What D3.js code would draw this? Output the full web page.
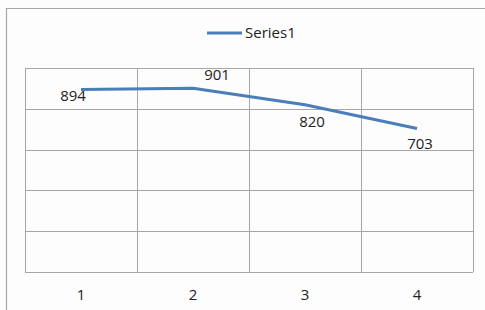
<!DOCTYPE html>
<html><head><meta charset="utf-8">
<script src="https://cdn.jsdelivr.net/npm/d3@7"></script>
<style>
html,body{margin:0;padding:0;background:#fff;}
svg{display:block;}
text{font-family:"Open Sans","DejaVu Sans",sans-serif;fill:#222;}
</style></head>
<body>
<script>
const categories = ["1", "2", "3", "4"];
const values = [894, 901, 820, 703];
const seriesName = "Series1";
const yTicks = [0, 200, 400, 600, 800, 1000];

const W = 485, H = 310;
const margin = {left: 25, right: 12, top: 68, bottom: 38};
const svg = d3.select("body").append("svg").attr("width", W).attr("height", H);

svg.append("rect").attr("width", W).attr("height", H).attr("fill", "#fdfdfd");
// chart border (top + left visible)
svg.append("path").attr("d", `M6.5,${H} V8.5 H${W}`).attr("fill", "none")
  .attr("stroke", "#a8a8a8").attr("stroke-width", 1.2);

const x = d3.scaleBand().domain(categories).range([margin.left, W - margin.right]).padding(0);
const y = d3.scaleLinear().domain([0, 1000]).range([H - margin.bottom, margin.top]);

const g = svg.append("g");
// horizontal gridlines
g.selectAll(".hg").data(yTicks).join("line")
  .attr("x1", margin.left).attr("x2", W - margin.right)
  .attr("y1", d => Math.round(y(d)) + 0.5).attr("y2", d => Math.round(y(d)) + 0.5)
  .attr("stroke", "#a6a6a6").attr("stroke-width", 1);
// vertical gridlines at band boundaries
const vb = categories.map(c => x(c)).concat([x(categories[categories.length - 1]) + x.bandwidth()]);
g.selectAll(".vg").data(vb).join("line")
  .attr("x1", d => Math.round(d) + 0.5).attr("x2", d => Math.round(d) + 0.5)
  .attr("y1", y(1000)).attr("y2", y(0))
  .attr("stroke", "#a6a6a6").attr("stroke-width", 1);

// x axis labels
const xAxis = d3.axisBottom(x).tickSize(0).tickPadding(17);
const xa = svg.append("g").attr("transform", `translate(0,${y(0)})`).call(xAxis);
xa.select(".domain").remove();
xa.selectAll("text").attr("font-size", 15).style("font-family", '"Open Sans","DejaVu Sans",sans-serif').attr("fill", "#222");

// line
const cx = c => x(c) + x.bandwidth() / 2;
const line = d3.line().x((d, i) => cx(categories[i])).y(d => y(d));
svg.append("path").datum(values).attr("d", line).attr("fill", "none")
  .attr("stroke", "#4a7ebb").attr("stroke-width", 3).attr("stroke-linejoin", "round");

// data labels (offsets relative to points)
const labelOffsets = [[-8, 11], [24, -8], [7, 22], [3, 20]];
svg.selectAll(".dl").data(values).join("text")
  .attr("x", (d, i) => cx(categories[i]) + labelOffsets[i][0])
  .attr("y", (d, i) => y(d) + labelOffsets[i][1])
  .attr("text-anchor", "middle").attr("font-size", 15).text(d => d);

// legend
svg.append("line").attr("x1", 207).attr("x2", 242).attr("y1", 33).attr("y2", 33)
  .attr("stroke", "#4a7ebb").attr("stroke-width", 3);
svg.append("text").attr("x", 245).attr("y", 38).attr("font-size", 15).text(seriesName);
</script>
</body></html>
